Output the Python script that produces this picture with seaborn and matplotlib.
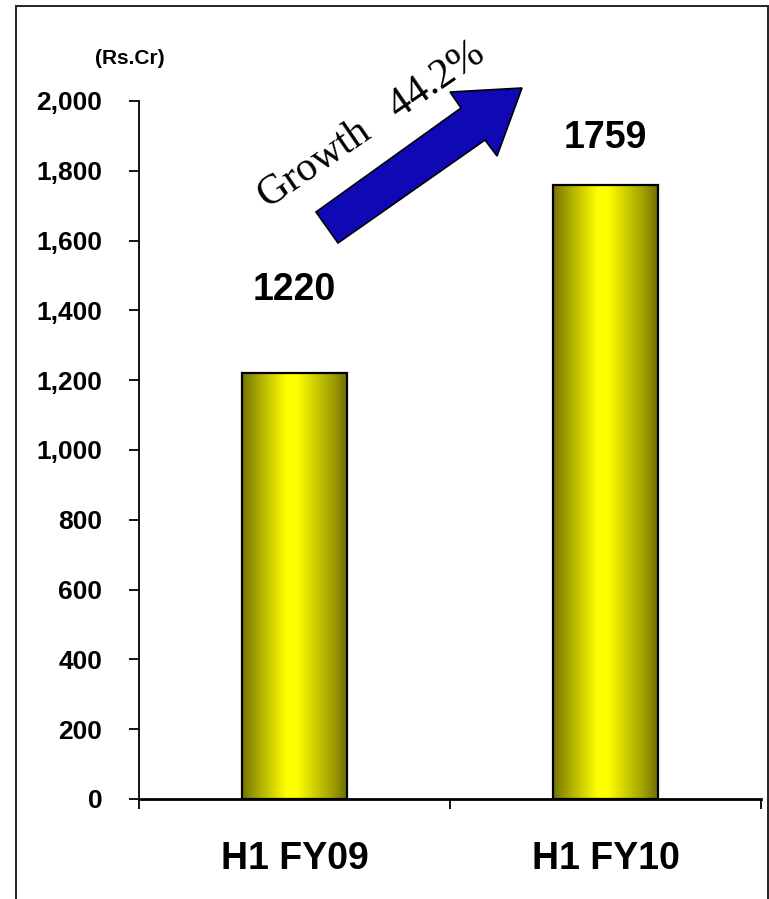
import numpy as np
import pandas as pd
import matplotlib
matplotlib.use("Agg")
import matplotlib.pyplot as plt
from matplotlib.patches import Polygon, Rectangle
import seaborn as sns

# Half-year revenue (Rs. crore)
categories = ["H1 FY09", "H1 FY10"]
revenue = [1220, 1759]
y_ticks = list(range(0, 2001, 200))
unit_label = "(Rs.Cr)"
growth_label = "Growth   44.2%"

df = pd.DataFrame({"period": categories, "revenue": revenue})

sns.set_theme(style="ticks")
plt.rcParams["font.family"] = ["Liberation Sans", "DejaVu Sans"]
plt.rcParams["font.weight"] = "bold"
plt.rcParams["text.color"] = "black"
plt.rcParams["axes.labelcolor"] = "black"
plt.rcParams["xtick.color"] = "black"
plt.rcParams["ytick.color"] = "black"

W, H = 769, 899
fig = plt.figure(figsize=(W / 100, H / 100), dpi=100)
fig.patch.set_facecolor("white")

# axes box in pixels: x 139..761, y 101..799 (from top)
ax = fig.add_axes([139 / W, 1 - 799 / H, (761 - 139) / W, (799 - 101) / H])
ax.set_facecolor("white")

sns.barplot(data=df, x="period", y="revenue", ax=ax, width=0.34,
            color="yellow", edgecolor="black", linewidth=1.6, zorder=3)

ax.set_xlim(-0.5, 1.5)
ax.set_ylim(0, 2000)

# horizontal olive-yellow-olive shading inside each bar
pos = np.linspace(0, 1, 256)
shade = np.interp(pos, [0, 0.12, 0.42, 0.52, 0.88, 1.0],
                  [0.45, 0.62, 1.0, 1.0, 0.6, 0.42])
grad = np.zeros((1, 256, 3))
grad[0, :, 0] = shade
grad[0, :, 1] = shade
grad[0, :, 2] = 0.0
for patch in ax.patches:
    x0 = patch.get_x()
    w = patch.get_width()
    h = patch.get_height()
    patch.set_facecolor("none")
    im = ax.imshow(grad, extent=(x0, x0 + w, 0, h), aspect="auto",
                   origin="lower", zorder=2, interpolation="bilinear")
    im.set_clip_path(patch)
ax.set_xlim(-0.5, 1.5)
ax.set_ylim(0, 2000)

# value labels above the bars
label_y = [1458, 1894]
for i, v in enumerate(revenue):
    ax.text(i, label_y[i], f"{v}", ha="center", va="center",
            fontsize=27, fontweight="bold", color="black")

# axes styling
for s in ["top", "right"]:
    ax.spines[s].set_visible(False)
ax.spines["left"].set_linewidth(1.3)
ax.spines["bottom"].set_linewidth(2.0)
ax.spines["left"].set_color("black")
ax.spines["bottom"].set_color("black")

ax.set_yticks(y_ticks)
ax.set_yticklabels([f"{t:,}" for t in y_ticks], fontsize=19, fontweight="bold",
                   color="black")
ax.tick_params(axis="y", direction="out", length=7.5, width=1.3, pad=19,
               colors="black")

ax.set_xticks([-0.5, 0.5, 1.5])
ax.set_xticklabels([])
ax.tick_params(axis="x", which="major", direction="out", length=7.5,
               width=1.3, colors="black")
ax.set_xticks([0, 1], minor=True)
ax.set_xticklabels(categories, minor=True, fontsize=27, fontweight="bold",
                   color="black")
ax.tick_params(axis="x", which="minor", length=0, pad=30)
ax.set_xlabel("")
ax.set_ylabel("")

# unit caption
fig.text(130 / W, 1 - 58 / H, unit_label, ha="center", va="center",
         fontsize=15, fontweight="bold", color="black")

# growth arrow (pixel outline converted to figure fraction)
arrow_px = [(316, 212), (461, 108), (450, 92), (522, 88),
            (497, 156), (485, 140), (338, 243)]
arrow_pts = [(x / W, 1 - y / H) for x, y in arrow_px]
fig.patches.append(Polygon(arrow_pts, closed=True, transform=fig.transFigure,
                           facecolor="#1008B4", edgecolor="black",
                           linewidth=1.2, zorder=5))

fig.text(268 / W, 1 - 209 / H, growth_label, rotation=34.5,
         rotation_mode="anchor", ha="left", va="baseline",
         fontsize=30, fontweight="normal", color="black",
         family=["Liberation Serif", "DejaVu Serif"], zorder=6)

# outer frame
fig.patches.append(Rectangle((15.5 / W, -0.01), (767.5 - 15.5) / W,
                             1.01 - 5.5 / H, transform=fig.transFigure,
                             fill=False, edgecolor="#222222", linewidth=1.4,
                             zorder=0))

fig.savefig("out.png", dpi=100, facecolor="white")
